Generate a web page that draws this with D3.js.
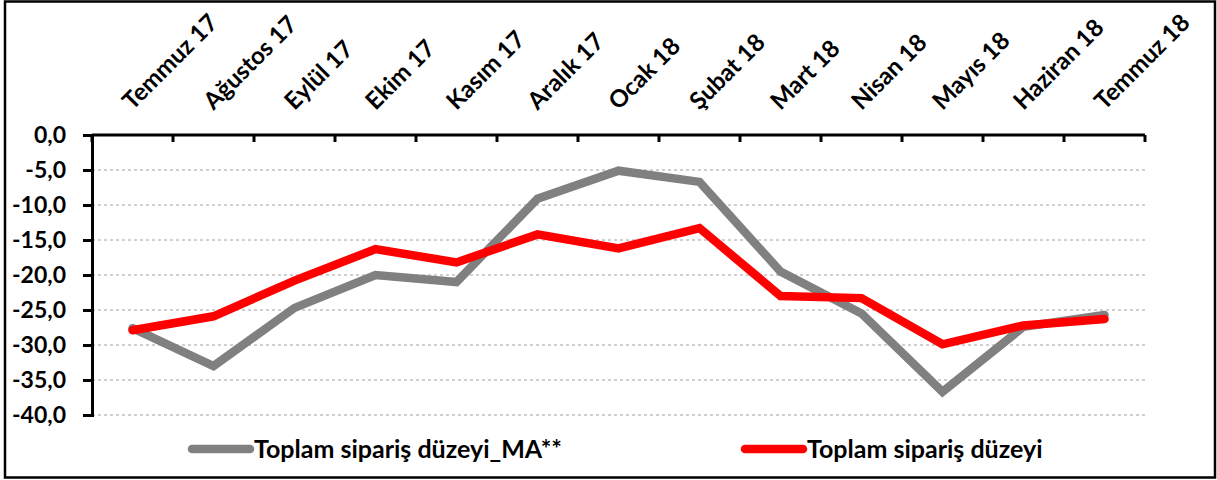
<!DOCTYPE html>
<html>
<head>
<meta charset="utf-8">
<script src="https://cdn.jsdelivr.net/npm/d3@7"></script>
<style>
  html, body { margin: 0; padding: 0; background: #fff; }
  text { font-family: Lato, "Open Sans", sans-serif; font-weight: bold; fill: #000; }
</style>
</head>
<body>
<svg id="chart" width="1217" height="480"></svg>
<script>
"use strict"

/****** DATA ******/
const months = ['Temmuz 17', 'Ağustos 17', 'Eylül 17', 'Ekim 17', 'Kasım 17', 'Aralık 17', 'Ocak 18',
  'Şubat 18', 'Mart 18', 'Nisan 18', 'Mayıs 18', 'Haziran 18', 'Temmuz 18']
const siparisMA = [-27.6, -33.0, -24.7, -20.0, -21.0, -9.1, -5.1, -6.7, -19.5, -25.5, -36.7, -27.4, -25.7]
const siparis = [-27.9, -25.9, -20.8, -16.3, -18.2, -14.2, -16.2, -13.3, -23.0, -23.3, -29.9, -27.2, -26.3]
const yTicks = [0, -5, -10, -15, -20, -25, -30, -35, -40]
const seriesNames = ['Toplam sipariş düzeyi_MA**', 'Toplam sipariş düzeyi']
const seriesColors = ['#808080', '#ff0000']

/****** CHART ******/
const svg = d3.select('#chart')
const plot = {left: 92, right: 1145, top: 135, bottom: 415}

svg.append('rect')
  .attr('x', 5).attr('y', 1.5).attr('width', 1210).attr('height', 476)
  .attr('fill', '#fff').attr('stroke', '#000').attr('stroke-width', 2.5)

const x = d3.scaleBand().domain(months).range([plot.left, plot.right])
const y = d3.scaleLinear().domain([0, -40]).range([plot.top, plot.bottom])

// gridlines
svg.append('g')
  .selectAll('line')
  .data(yTicks.filter(d => d !== 0))
  .enter().append('line')
    .attr('x1', plot.left).attr('x2', plot.right)
    .attr('y1', d => y(d)).attr('y2', d => y(d))
    .attr('stroke', '#a0a0a0').attr('stroke-width', 1).attr('stroke-dasharray', '3,3')

// y axis
const yAxis = svg.append('g')
  .attr('transform', `translate(${plot.left},0)`)
  .call(d3.axisLeft(y).tickValues(yTicks).tickSize(9).tickPadding(17).tickFormat(d => d3.format('.1f')(d).replace('.', ',').replace('−', '-')))
yAxis.select('.domain').attr('stroke', '#000').attr('stroke-width', 3)
yAxis.selectAll('.tick line').attr('stroke', '#000').attr('stroke-width', 3)
yAxis.selectAll('.tick text').attr('font-size', 23).attr('font-family', null)

// x axis on top, ticks between categories
const xAxis = svg.append('g')
  .attr('transform', `translate(0,${plot.top})`)
xAxis.append('line')
  .attr('x1', plot.left).attr('x2', plot.right)
  .attr('stroke', '#000').attr('stroke-width', 3)
xAxis.selectAll('line.tick')
  .data(months.concat(['end']))
  .enter().append('line')
    .attr('class', 'tick')
    .attr('x1', (d, i) => plot.left + i * x.step()).attr('x2', (d, i) => plot.left + i * x.step())
    .attr('y1', 0).attr('y2', 7)
    .attr('stroke', '#000').attr('stroke-width', 3)
xAxis.selectAll('text')
  .data(months)
  .enter().append('text')
    .attr('transform', d => `translate(${x(d) + x.bandwidth() / 2},${111 - plot.top}) rotate(-45)`)
    .attr('font-size', 24)
    .text(d => d)

// lines
const line = d3.line()
  .x((d, i) => x(months[i]) + x.bandwidth() / 2)
  .y(d => y(d))
const seriesData = [siparisMA, siparis]
svg.append('g')
  .selectAll('path')
  .data(seriesData)
  .enter().append('path')
    .attr('d', line)
    .attr('fill', 'none')
    .attr('stroke', (d, i) => seriesColors[i])
    .attr('stroke-width', 8.5)
    .attr('stroke-linecap', 'round')
    .attr('stroke-linejoin', 'miter')

// legend
const legendX = [192, 745]
const legend = svg.append('g')
  .selectAll('g')
  .data(seriesNames)
  .enter().append('g')
    .attr('transform', (d, i) => `translate(${legendX[i]},449)`)
legend.append('line')
  .attr('x1', 0).attr('x2', 58)
  .attr('stroke', (d, i) => seriesColors[i])
  .attr('stroke-width', 8.5)
  .attr('stroke-linecap', 'round')
legend.append('text')
  .attr('x', 62).attr('y', 9)
  .attr('font-size', 25)
  .text(d => d)
</script>
</body>
</html>
